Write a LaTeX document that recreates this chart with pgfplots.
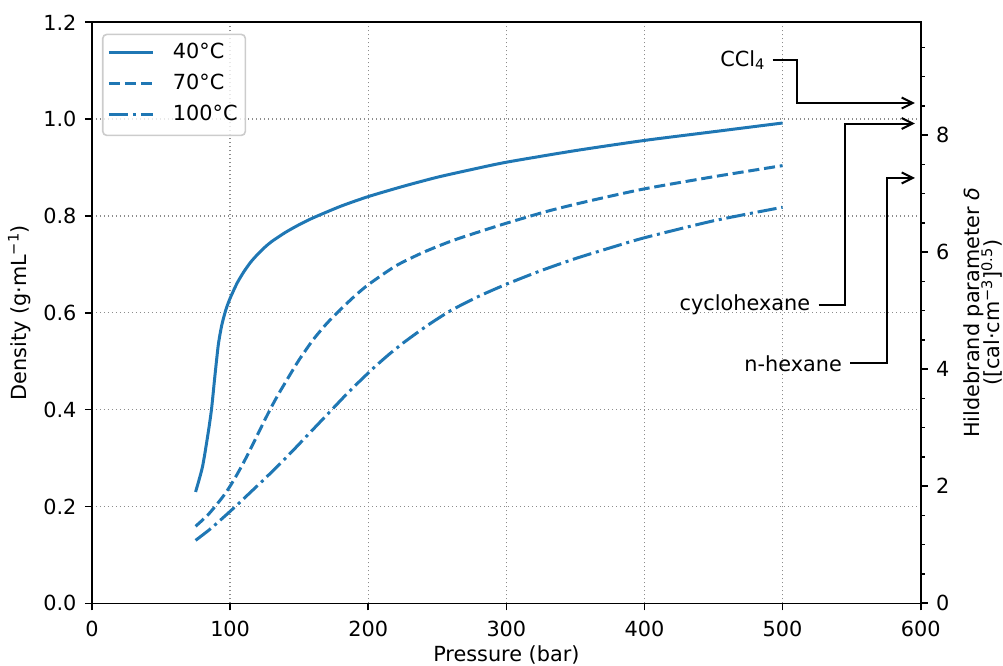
\documentclass[border=0pt]{standalone}
\usepackage{fontspec}
\setmainfont{DejaVu Sans}
\usepackage{pgfplots}
\pgfplotsset{compat=1.18}
\usetikzlibrary{arrows.meta}
\definecolor{tabblue}{HTML}{1F77B4}

% CO2 density isotherms (g/mL) against pressure (bar)
\pgfplotstableread{
p rho
75 0.230
80 0.282
84 0.350
86.5 0.400
89 0.470
91.5 0.535
94 0.575
97 0.607
100 0.630
105 0.661
110 0.685
115 0.705
120 0.721
125 0.735
130 0.747
140 0.766
150 0.782
160 0.796
180 0.820
200 0.840
225 0.861
250 0.880
275 0.896
300 0.911
350 0.935
400 0.956
450 0.974
500 0.992
}\isoA
\pgfplotstableread{
p rho
75 0.159
80 0.172
85 0.186
90 0.203
95 0.221
100 0.242
105 0.266
110 0.292
115 0.320
120 0.349
125 0.378
130 0.406
135 0.432
140 0.456
145 0.480
150 0.503
160 0.544
170 0.578
180 0.607
190 0.634
200 0.658
220 0.697
240 0.725
260 0.748
280 0.767
300 0.785
330 0.810
360 0.831
400 0.856
450 0.881
500 0.904
}\isoB
\pgfplotstableread{
p rho
75 0.130
85 0.152
95 0.177
105 0.203
115 0.230
125 0.257
135 0.285
145 0.314
155 0.344
165 0.374
175 0.404
185 0.434
195 0.462
205 0.489
215 0.514
225 0.537
235 0.558
245 0.578
260 0.605
280 0.634
300 0.659
325 0.687
350 0.712
375 0.734
400 0.755
450 0.790
500 0.818
}\isoC

\begin{document}
\begin{tikzpicture}[font=\fontsize{20.8bp}{25bp}\selectfont]
\path[use as bounding box] (-92bp,-62.7bp) rectangle (911bp,603.3bp);
\begin{axis}[
  at={(0,0)}, anchor=south west,
  scale only axis, width=828.7bp, height=581bp,
  xmin=0, xmax=600, ymin=0, ymax=1.2,
  xtick={0,100,...,600}, ytick={0,0.2,...,1.2},
  yticklabel style={xshift=-5bp, /pgf/number format/fixed,
    /pgf/number format/fixed zerofill, /pgf/number format/precision=1},
  xticklabel style={yshift=-7bp},
  /pgf/number format/assume math mode=true,
  xtick pos=bottom, ytick pos=left,
  tick align=outside, major tick length=7bp,
  tick style={black, line width=1.6bp},
  axis line style={line width=1.6bp},
  grid=major,
  major grid style={gray!90, line width=1.4bp, dash pattern=on 1.4bp off 2.6bp},
  xlabel={Pressure (bar)}, xlabel shift=2.5bp,
  ylabel={Density (g·mL\textsuperscript{−1})}, ylabel shift=6bp,
  legend cell align=left,
  legend image code/.code={\draw[#1] (0bp,1.8bp) -- (44bp,1.8bp);},
  legend style={at={(0,1)}, anchor=north west, xshift=10bp, yshift=-11.3bp,
    draw=black!20, line width=1.6bp, rounded corners=4bp,
    fill=white, fill opacity=0.8, text opacity=1,
    inner xsep=4.7bp, inner ysep=4bp, row sep=0bp,
    nodes={inner xsep=3bp, inner ysep=5.5bp, text height=15bp, text depth=5bp}},
]
\addplot[tabblue, line width=3bp, smooth, tension=0.4] table[x=p, y=rho] {\isoA};
\addlegendentry{\hspace{15.5bp}40°C}
\addplot[tabblue, line width=3bp, dash pattern=on 11.1bp off 4.8bp, smooth, tension=0.4] table[x=p, y=rho] {\isoB};
\addlegendentry{\hspace{15.5bp}70°C}
\addplot[tabblue, line width=3bp, dash pattern=on 19.2bp off 4.8bp on 3bp off 4.8bp, smooth, tension=0.4] table[x=p, y=rho] {\isoC};
\addlegendentry{\hspace{15.5bp}100°C}
\end{axis}
\begin{axis}[
  at={(0,0)}, anchor=south west,
  scale only axis, width=828.7bp, height=581bp,
  xmin=0, xmax=600, ymin=0, ymax=9.93,
  hide x axis, axis y line*=right,
  /pgf/number format/assume math mode=true,
  ytick={0,2,...,8},
  minor ytick={0.5,1,1.5,2.5,3,3.5,4.5,5,5.5,6.5,7,7.5,8.5,9,9.5},
  tick align=outside, major tick length=7bp, minor tick length=4bp,
  tick style={black, line width=1.6bp},
  minor tick style={black, line width=1.2bp},
  axis line style={line width=1.6bp},
  yticklabel style={xshift=5bp},
  ylabel style={align=center}, ylabel shift=7bp,
  ylabel={Hildebrand parameter {\itshape δ}\\[-4.5bp]([cal·cm\textsuperscript{−3}]\textsuperscript{0.5})},
]
% solvent reference values with elbow arrows
\draw[black, line width=2bp, -{Straight Barb[length=11bp, width=11bp]}]
  (axis cs:492.7,9.28) -- (axis cs:510.3,9.28) -- (axis cs:510.3,8.55) -- (axis cs:595.8,8.55);
\node[anchor=east, inner sep=0pt] at (axis cs:487.3,9.28) {CCl\textsubscript{4}};
\draw[black, line width=2bp, -{Straight Barb[length=11bp, width=11bp]}]
  (axis cs:526.1,5.10) -- (axis cs:545.4,5.10) -- (axis cs:545.4,8.20) -- (axis cs:595.8,8.20);
\node[anchor=east, inner sep=0pt] at (axis cs:520,5.10) {cyclohexane};
\draw[black, line width=2bp, -{Straight Barb[length=11bp, width=11bp]}]
  (axis cs:549,4.10) -- (axis cs:575.7,4.10) -- (axis cs:575.7,7.27) -- (axis cs:595.8,7.27);
\node[anchor=east, inner sep=0pt] at (axis cs:543,4.10) {n-hexane};
\end{axis}
\end{tikzpicture}
\end{document}
